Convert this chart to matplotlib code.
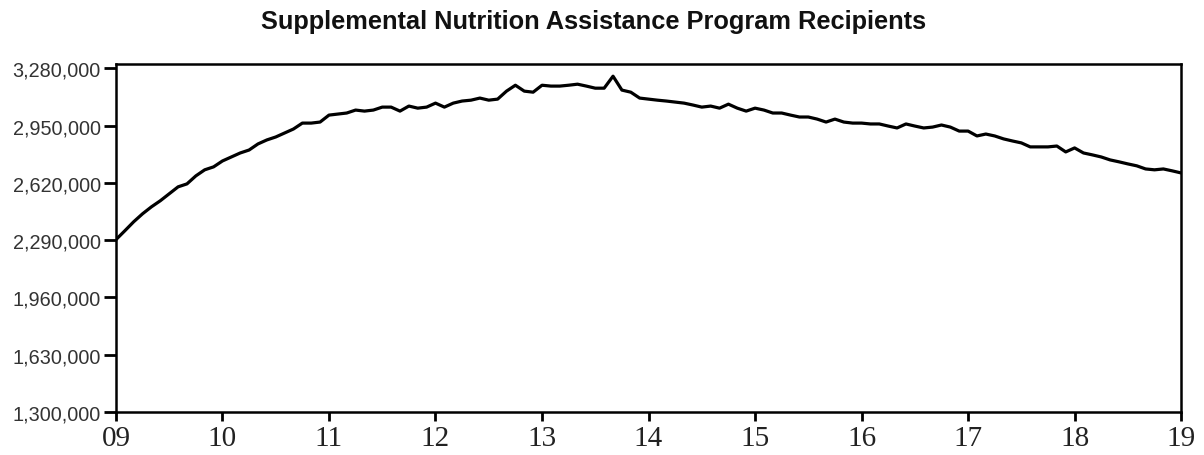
import numpy as np
import matplotlib.pyplot as plt
from matplotlib.ticker import FuncFormatter

# monthly recipients, Jan 2009 .. Jan 2019 (thousands)
y2009 = [2293, 2344, 2396, 2442, 2482, 2517, 2557, 2597, 2614, 2660, 2695, 2712]
y2010 = [2746, 2769, 2792, 2809, 2844, 2867, 2884, 2907, 2930, 2964, 2964, 2970]
y2011 = [3010, 3016, 3022, 3039, 3033, 3039, 3056, 3056, 3033, 3062, 3050, 3056]
y2012 = [3079, 3056, 3079, 3091, 3096, 3108, 3096, 3102, 3148, 3182, 3148, 3142]
y2013 = [3182, 3177, 3177, 3182, 3188, 3177, 3165, 3165, 3234, 3154, 3142, 3108]
y2014 = [3102, 3096, 3091, 3085, 3079, 3068, 3056, 3062, 3050, 3073, 3050, 3033]
y2015 = [3050, 3039, 3022, 3022, 3010, 2999, 2999, 2987, 2970, 2987, 2970, 2964]
y2016 = [2964, 2959, 2959, 2947, 2936, 2959, 2947, 2936, 2941, 2953, 2941, 2918]
y2017 = [2918, 2890, 2901, 2890, 2873, 2861, 2850, 2827, 2827, 2827, 2832, 2798]
y2018 = [2821, 2792, 2781, 2769, 2752, 2741, 2729, 2718, 2700, 2695, 2700, 2689]
y2019 = [2677]

year_labels = ['09', '10', '11', '12', '13', '14', '15', '16', '17', '18', '19']
y_ticks = [1300000, 1630000, 1960000, 2290000, 2620000, 2950000, 3280000]

recipients = np.array(y2009 + y2010 + y2011 + y2012 + y2013 + y2014 + y2015
                      + y2016 + y2017 + y2018 + y2019) * 1000
t = 2009 + np.arange(len(recipients)) / 12.0

fig = plt.figure(figsize=(12.04, 4.56), dpi=100)
ax = fig.add_axes([0.0963, 0.094, 0.8847, 0.763])

ax.plot(t, recipients, color='black', linewidth=2.3, solid_joinstyle='round')

ax.set_xlim(2009, 2019)
ax.set_ylim(1300000, 3303000)
ax.set_xticks(range(2009, 2020))
ax.set_xticklabels(year_labels, fontfamily='Liberation Serif', fontsize=21, color='#222222')
ax.set_yticks(y_ticks)
ax.yaxis.set_major_formatter(FuncFormatter(lambda v, p: f'{int(v):,}'))
for lab in ax.get_yticklabels():
    lab.set_fontfamily('Liberation Sans')
    lab.set_fontsize(14.3)
    lab.set_color('#333333')

ax.tick_params(axis='y', length=9, width=2, pad=2, colors='black', labelcolor='#333333')
ax.tick_params(axis='x', length=6.5, width=2, pad=3, colors='black', labelcolor='#222222')
for s in ax.spines.values():
    s.set_linewidth(1.8)
    s.set_color('black')

fig.text(0.493, 0.952, 'Supplemental Nutrition Assistance Program Recipients',
         ha='center', va='center', fontfamily='Liberation Sans', fontweight='bold',
         fontsize=18.3, color='#111111')

fig.savefig('out.png', dpi=100)
